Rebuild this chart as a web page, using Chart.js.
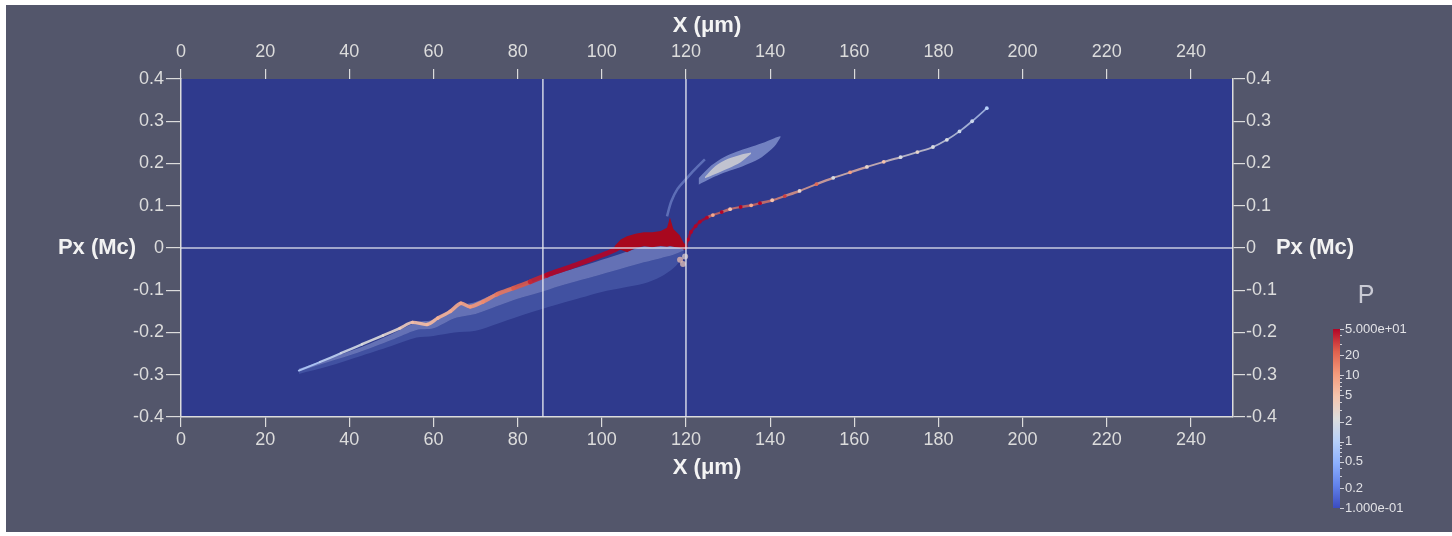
<!DOCTYPE html>
<html>
<head>
<meta charset="utf-8">
<script src="https://cdn.jsdelivr.net/npm/chart.js@4"></script>
<style>
html, body { margin: 0; padding: 0; background: #ffffff; }
#wrap { position: absolute; left: 6px; top: 5px; width: 1446px; height: 527px; background: #53566b; }
</style>
</head>
<body>
<div id="wrap"><canvas id="phase" width="1446" height="527"></canvas></div>
<script>
// Оси и подписи
const xTicks = [0, 20, 40, 60, 80, 100, 120, 140, 160, 180, 200, 220, 240];
const yTicks = [-0.4, -0.3, -0.2, -0.1, 0, 0.1, 0.2, 0.3, 0.4];
const cbTicks = [50, 20, 10, 5, 2, 1, 0.5, 0.2, 0.1];
const cbLabels = ['5.000e+01', '20', '10', '5', '2', '1', '0.5', '0.2', '1.000e-01'];
const cbMinor = [40, 30, 9, 8, 7, 6, 4, 3, 0.9, 0.8, 0.7, 0.6, 0.4, 0.3];

// Линии-перекрестия
const markX = [86, 120];
const markY = [0];

// Основной пучок (ядро)
const coreX = [28, 33, 38, 43, 48, 52, 55, 58.5, 61, 64, 66.5, 68.7, 71.8, 75, 79, 83, 87, 91, 95, 99, 102.7, 106, 109.8, 113.8, 117, 119.8];
const coreY = [-0.290, -0.270, -0.249, -0.228, -0.207, -0.190, -0.176, -0.181, -0.166, -0.150, -0.131, -0.139, -0.127, -0.110, -0.095, -0.080, -0.064, -0.050, -0.036, -0.021, -0.006, 0.012, 0.025, 0.025, 0.020, 0.002];
const coreP = [0.8, 1, 1.5, 2, 2.5, 3, 5, 6, 6, 8, 8, 10, 12, 15, 20, 30, 50, 50, 50, 50, 50, 50, 50, 50, 50, 50];

// Ореол под ядром
const haloX = [28, 35, 42, 50, 56, 60, 65, 70, 75, 80, 85, 90, 95, 100, 105, 110, 114, 117, 119.5];
const haloTop = [-0.286, -0.262, -0.238, -0.204, -0.176, -0.170, -0.140, -0.128, -0.106, -0.091, -0.075, -0.059, -0.044, -0.028, -0.012, 0.004, 0.010, 0.008, 0.000];
const haloInner = [-0.293, -0.270, -0.248, -0.218, -0.194, -0.190, -0.166, -0.156, -0.138, -0.120, -0.106, -0.090, -0.076, -0.062, -0.048, -0.034, -0.024, -0.016, -0.006];
const haloLow = [-0.298, -0.280, -0.258, -0.232, -0.212, -0.208, -0.200, -0.196, -0.180, -0.163, -0.147, -0.132, -0.118, -0.104, -0.094, -0.084, -0.068, -0.048, -0.020];

// Плотный сгусток у 105-120 мкм
const blobX = [103, 104.5, 106, 108, 110, 112, 114, 115.5, 116.2, 117, 118.5, 119.8];
const blobTop = [0.004, 0.020, 0.028, 0.034, 0.037, 0.037, 0.040, 0.048, 0.072, 0.045, 0.030, 0.006];
const blobLow = [-0.006, -0.004, -0.010, 0.000, 0.004, 0.002, 0.005, 0.003, 0.005, 0.003, 0.000, -0.004];

// Хвост справа
const tailX = [119.8, 120.5, 121.2, 122.3, 123.3, 125, 126.4, 128.5, 130.5, 133, 135.5, 137.6, 140.5, 143.5, 147, 151, 155, 159, 163, 167, 171, 175, 178.7, 182, 185, 188, 191.5];
const tailY = [0.002, 0.020, 0.038, 0.052, 0.062, 0.072, 0.078, 0.085, 0.092, 0.097, 0.101, 0.106, 0.113, 0.123, 0.135, 0.151, 0.166, 0.179, 0.192, 0.204, 0.215, 0.227, 0.239, 0.256, 0.276, 0.300, 0.331];
const tailP = [50, 50, 50, 50, 50, 50, 8, 50, 5, 50, 8, 50, 5, 30, 3, 20, 2, 10, 3, 5, 2, 3, 2, 2, 1.5, 1.5, 1];

// Верхняя ветвь
const streakX = [115.5, 116.5, 118, 120, 122, 124.5];
const streakY = [0.075, 0.110, 0.140, 0.163, 0.185, 0.210];
const cloudX = [123, 126, 129, 132, 135, 138, 141, 142.5];
const cloudTop = [0.165, 0.195, 0.215, 0.228, 0.238, 0.248, 0.260, 0.265];
const cloudLow = [0.150, 0.165, 0.178, 0.188, 0.200, 0.215, 0.240, 0.262];
const cloudCoreX = [124.5, 127, 130, 133, 135.5];
const cloudCoreTop = [0.168, 0.194, 0.211, 0.221, 0.226];
const cloudCoreLow = [0.165, 0.175, 0.188, 0.203, 0.223];

// Пятно под сгустком
const tipX = [118.6, 119.3, 119.8];
const tipY = [-0.028, -0.038, -0.020];
const tipP = [5, 4, 3];

// Палитра Cool to Warm
const stops = [
    [59, 76, 192], [98, 130, 234], [141, 176, 254], [184, 208, 249], [221, 221, 221],
    [245, 196, 173], [244, 154, 123], [222, 96, 77], [180, 4, 38]
];
const pMin = 0.1, pMax = 50;

function pFrac(p) {
    return (Math.log10(p) - Math.log10(pMin)) / (Math.log10(pMax) - Math.log10(pMin));
}
function mapColor(t, a) {
    t = Math.max(0, Math.min(1, t));
    const f = t * (stops.length - 1);
    const i = Math.min(stops.length - 2, Math.floor(f));
    const k = f - i;
    const c = stops[i].map((v, j) => Math.round(v + (stops[i + 1][j] - v) * k));
    return `rgba(${c[0]},${c[1]},${c[2]},${a === undefined ? 1 : a})`;
}
function pColor(p, a) { return mapColor(pFrac(p), a); }

const zip = (xs, ys) => xs.map((x, i) => ({ x: x, y: ys[i] }));

const tickColor = '#dcdcdc';
const font = 'Liberation Sans, Arial, sans-serif';

// Фон области графика
const plotBg = {
    id: 'plotBg',
    beforeDraw(chart) {
        const a = chart.chartArea;
        const ctx = chart.ctx;
        ctx.save();
        ctx.fillStyle = '#2f3a8d';
        ctx.fillRect(a.left, a.top, a.right - a.left, a.bottom - a.top);
        ctx.restore();
    }
};

// Горизонтальные подписи осей Y и шкала цвета
const extras = {
    id: 'extras',
    afterDraw(chart) {
        const ctx = chart.ctx;
        const yMid = chart.scales.y.getPixelForValue(0);
        ctx.save();
        ctx.fillStyle = '#f2f2f2';
        ctx.font = 'bold 22px ' + font;
        ctx.textAlign = 'center';
        ctx.textBaseline = 'middle';
        ctx.fillText('Px (Mc)', 91, yMid);
        ctx.fillText('Px (Mc)', 1309, yMid);

        // шкала цвета
        const bx = 1327, bw = 7, top = 324, bottom = 503;
        const yOf = p => bottom - pFrac(p) * (bottom - top);
        const grad = ctx.createLinearGradient(0, bottom, 0, top);
        stops.forEach((s, i) => grad.addColorStop(i / (stops.length - 1), mapColor(i / (stops.length - 1))));
        ctx.fillStyle = grad;
        ctx.fillRect(bx, top, bw, bottom - top);

        ctx.strokeStyle = '#d0d0d8';
        ctx.lineWidth = 1;
        cbTicks.forEach(p => {
            ctx.beginPath();
            ctx.moveTo(bx + bw, Math.round(yOf(p)) + 0.5);
            ctx.lineTo(bx + bw + 4, Math.round(yOf(p)) + 0.5);
            ctx.stroke();
        });
        cbMinor.forEach(p => {
            ctx.beginPath();
            ctx.moveTo(bx + bw, Math.round(yOf(p)) + 0.5);
            ctx.lineTo(bx + bw + 2, Math.round(yOf(p)) + 0.5);
            ctx.stroke();
        });

        ctx.fillStyle = '#e2e2e6';
        ctx.font = '13px ' + font;
        ctx.textAlign = 'left';
        cbTicks.forEach((p, i) => ctx.fillText(cbLabels[i], bx + bw + 5, yOf(p)));

        ctx.fillStyle = '#c9cad4';
        ctx.font = '25px ' + font;
        ctx.textAlign = 'center';
        ctx.fillText('P', 1360, 291);
        ctx.restore();
    }
};

const datasets = [];

// линии перекрестия
markX.forEach(v => datasets.push({
    data: [{ x: v, y: -0.4 }, { x: v, y: 0.4 }],
    borderColor: 'rgba(226,228,238,0.85)', borderWidth: 1.6, pointRadius: 0, order: 0
}));
markY.forEach(v => datasets.push({
    data: [{ x: 0, y: v }, { x: 250, y: v }],
    borderColor: 'rgba(226,228,238,0.85)', borderWidth: 1.6, pointRadius: 0, order: 0
}));

// сгусток
datasets.push({ data: zip(blobX, blobTop), borderWidth: 0, pointRadius: 0, order: 1 });
datasets.push({
    data: zip(blobX, blobLow), borderWidth: 0, pointRadius: 0, order: 1,
    fill: '-1', backgroundColor: 'rgb(168,8,30)'
});

// ядро
datasets.push({
    data: zip(coreX, coreY), pointRadius: 0, order: 2,
    borderCapStyle: 'round', borderJoinStyle: 'round', tension: 0.3,
    segment: {
        borderColor: c => pColor(Math.sqrt(coreP[c.p0DataIndex] * coreP[c.p1DataIndex]), 0.9),
        borderWidth: c => 2 + 1.8 * Math.log10(Math.sqrt(coreP[c.p0DataIndex] * coreP[c.p1DataIndex]))
    }
});

// хвост
datasets.push({
    data: zip(tailX, tailY), order: 2, tension: 0.3,
    pointRadius: 1.9, pointBorderWidth: 0,
    pointBackgroundColor: tailP.map(p => pColor(p)),
    segment: {
        borderColor: c => pColor(Math.sqrt(tailP[c.p0DataIndex] * tailP[c.p1DataIndex]), 0.75),
        borderWidth: c => 1.6 + 0.6 * Math.log10(tailP[c.p0DataIndex])
    }
});

// пятно
datasets.push({
    type: 'scatter', data: zip(tipX, tipY), order: 2,
    pointRadius: 3, pointBorderWidth: 0,
    pointBackgroundColor: tipP.map(p => pColor(p, 0.7))
});

// верхняя ветвь
datasets.push({
    data: zip(streakX, streakY), pointRadius: 0, order: 3, tension: 0.3,
    borderColor: 'rgba(150,175,235,0.45)', borderWidth: 2.5
});
datasets.push({ data: zip(cloudCoreX, cloudCoreTop), borderWidth: 0, pointRadius: 0, order: 3, tension: 0.3 });
datasets.push({
    data: zip(cloudCoreX, cloudCoreLow), pointRadius: 0, order: 3, tension: 0.3,
    borderWidth: 0, fill: '-1', backgroundColor: 'rgba(226,224,214,0.7)'
});
datasets.push({ data: zip(cloudX, cloudTop), borderWidth: 0, pointRadius: 0, order: 3, tension: 0.3 });
datasets.push({
    data: zip(cloudX, cloudLow), pointRadius: 0, order: 3, tension: 0.3,
    borderWidth: 0, fill: '-1', backgroundColor: 'rgba(170,188,236,0.55)'
});

// ореол
datasets.push({ data: zip(haloX, haloTop), borderWidth: 0, pointRadius: 0, order: 4, tension: 0.3 });
datasets.push({
    data: zip(haloX, haloInner), borderWidth: 0, pointRadius: 0, order: 4, tension: 0.3,
    fill: '-1', backgroundColor: 'rgba(175,190,235,0.42)'
});
datasets.push({
    data: zip(haloX, haloLow), borderWidth: 0, pointRadius: 0, order: 5, tension: 0.3,
    fill: '-1', backgroundColor: 'rgba(120,150,225,0.25)'
});

function axisX(position) {
    const top = position === 'top';
    return {
        type: 'linear', position: position, min: 0, max: 250,
        afterBuildTicks: s => { s.ticks = xTicks.map(v => ({ value: v })); },
        afterFit: s => { s.height = top ? 74 : 115; },
        grid: { drawOnChartArea: false, color: tickColor, tickLength: 10, lineWidth: 1.2 },
        border: { display: !top, color: tickColor, width: 1.5 },
        ticks: {
            color: tickColor, font: { family: font, size: 18 },
            padding: top ? 6 : 2, maxRotation: 0, autoSkip: false
        },
        title: {
            display: true, text: 'X (μm)', color: '#f4f4f4',
            font: { family: font, size: 22, weight: 'bold' },
            padding: top ? { top: 8 } : { bottom: 51 }
        }
    };
}
function axisY(position) {
    const left = position === 'left';
    return {
        type: 'linear', position: position, min: -0.4, max: 0.4,
        afterBuildTicks: s => { s.ticks = yTicks.map(v => ({ value: v })); },
        afterFit: s => { s.width = left ? 175 : 219; },
        grid: { drawOnChartArea: false, color: tickColor, tickLength: left ? 15 : 12, lineWidth: 1.2 },
        border: { color: tickColor, width: 1.5 },
        ticks: {
            color: tickColor, font: { family: font, size: 18 },
            padding: left ? 2 : 1, autoSkip: false,
            callback: v => String(Math.round(v * 10) / 10)
        }
    };
}

new Chart(document.getElementById('phase'), {
    type: 'line',
    data: { datasets: datasets },
    options: {
        responsive: false,
        animation: false,
        devicePixelRatio: 1,
        layout: { padding: 0 },
        plugins: { legend: { display: false }, tooltip: { enabled: false } },
        scales: {
            x: axisX('bottom'),
            x2: axisX('top'),
            y: axisY('left'),
            y2: axisY('right')
        }
    },
    plugins: [plotBg, extras]
});
</script>
</body>
</html>
